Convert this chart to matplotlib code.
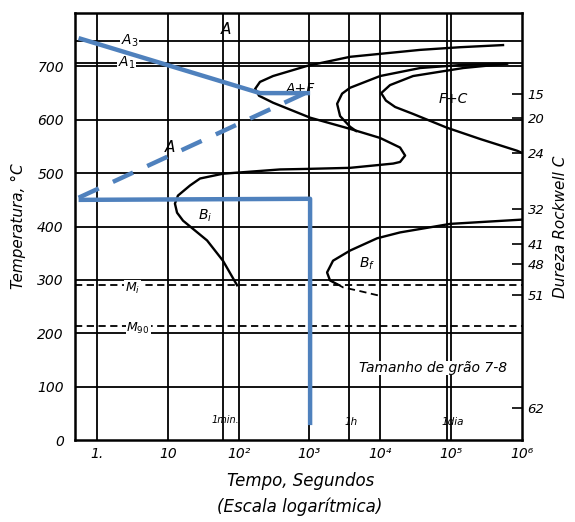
import matplotlib
matplotlib.use("Agg")
import matplotlib.pyplot as plt

plt.rcParams['font.family'] = ['DejaVu Sans']
plt.rcParams['mathtext.default'] = 'it'

# curves of the TTT diagram (time in s, temperature in C)
ferrite_start_t = [5.4e5, 1.34e5, 3.65e4, 3740, 925, 306, 200, 171, 194, 306, 1020,
                   3740, 9930, 1.9e4, 2.24e4, 1.9e4, 1.52e4, 3740, 925, 385, 60,
                   28.5, 20.6, 13.9, 12.6, 13.5, 16.4, 35.8, 60, 95]
ferrite_start_T = [740, 736, 731, 718, 701, 682, 671, 658, 645, 632, 604,
                   583, 566, 548, 533, 521, 518, 510, 508, 507, 499,
                   490, 477, 458, 443, 426, 411, 374, 336, 290]

pearlite_start_t = [5.79e5, 1.48e5, 3.65e4, 9930, 3740, 2886, 2455, 2704, 3740, 4550]
pearlite_start_T = [705, 703, 697, 682, 660, 649, 630, 607, 587, 579]

pearlite_end_t = [6.17e5, 1.48e5, 2.9e4, 1.37e4, 1.03e4, 1.2e4, 1.62e4, 2.9e4,
                  8.8e4, 2.57e5, 8.55e5, 1e6]
pearlite_end_T = [705, 697, 682, 665, 650, 636, 624, 611, 585, 564, 542, 538]

bainite_end_t = [1e6, 9.7e4, 1.9e4, 9010, 3740, 2150, 1770, 1950, 2455]
bainite_end_T = [413, 405, 389, 378, 355, 336, 314, 299, 292]
bainite_end_dash_t = [2455, 2985, 5190, 9310]
bainite_end_dash_T = [292, 286, 279, 271]

# critical temperatures
A3 = 748
A1 = 707
Mi = 290
M90 = 213

# hardness scale on the right
hrc_T = [648, 604, 538, 432, 368, 330, 271, 60]
hrc_labels = ['15', '20', '24', '32', '41', '48', '51', '62']

x_ticks = [1, 10, 100, 1e3, 1e4, 1e5, 1e6]
x_labels = ['1.', '10', '10²', '10³', '10⁴', '10⁵', '10⁶']
y_ticks = [0, 100, 200, 300, 400, 500, 600, 700]
v_lines = [1, 10, 60, 100, 1000, 3600, 1e4, 86400, 1e5]

# blue cooling paths drawn over the diagram
path1_t = [0.55, 200, 1020]
path1_T = [753, 650, 650]
path2_t = [0.55, 870]
path2_T = [454, 650]
path3_t = [0.55, 1020, 1020]
path3_T = [450, 452, 28]

blue = '#4f81bd'
ital = dict(fontstyle='italic', color='black')

fig = plt.figure(figsize=(5.75, 5.22), dpi=100)
ax = fig.add_axes([0.1304, 0.157, 0.7774, 0.818])
ax.set_xscale('log')
ax.set_xlim(0.489, 1e6)
ax.set_ylim(0, 800)

# grid
for v in v_lines:
    ax.axvline(v, color='black', lw=1.3, zorder=1)
for h in y_ticks[1:]:
    ax.axhline(h, color='black', lw=1.3, zorder=1)
ax.axhline(A3, color='black', lw=1.3, zorder=1)
ax.axhline(A1, color='black', lw=1.3, zorder=1)
ax.axhline(Mi, color='black', lw=1.3, ls=(0, (4, 2.5)), zorder=1)
ax.axhline(M90, color='black', lw=1.3, ls=(0, (4, 2.5)), zorder=1)

# curves
ax.plot(ferrite_start_t, ferrite_start_T, color='black', lw=1.7, zorder=2)
ax.plot(pearlite_start_t, pearlite_start_T, color='black', lw=1.7, zorder=2)
ax.plot(pearlite_end_t, pearlite_end_T, color='black', lw=1.7, zorder=2)
ax.plot(bainite_end_t, bainite_end_T, color='black', lw=1.7, zorder=2)
ax.plot(bainite_end_dash_t, bainite_end_dash_T, color='black', lw=1.3,
        ls=(0, (4, 2.5)), zorder=2)

# labels on the diagram
wb = dict(fc='white', ec='none', pad=0.5)
ax.text(66, 770, 'A', fontsize=11, ha='center', va='center', **ital)
ax.text(2.9, 748, 'A$_3$', fontsize=10, ha='center', va='center', bbox=wb, **ital)
ax.text(2.65, 707, 'A$_1$', fontsize=10, ha='center', va='center', bbox=wb, **ital)
ax.text(736, 658, 'A+F', fontsize=10, ha='center', va='center', **ital)
ax.text(10.7, 548, 'A', fontsize=11, ha='center', va='center', **ital)
ax.text(33.5, 420, 'B$_i$', fontsize=10, ha='center', va='center', **ital)
ax.text(1.07e5, 639, 'F+C', fontsize=10, ha='center', va='center', **ital)
ax.text(6500, 331, 'B$_f$', fontsize=10, ha='center', va='center', **ital)
ax.text(3.2, 284, 'M$_i$', fontsize=9, ha='center', va='center', bbox=wb, **ital)
ax.text(3.8, 209, 'M$_{90}$', fontsize=9, ha='center', va='center', bbox=wb, **ital)
ax.text(5.6e4, 135, 'Tamanho de grão 7-8', fontsize=10, ha='center', va='center',
        bbox=dict(fc='white', ec='none', pad=0.3), **ital)
ax.text(64, 37, '1min.', fontsize=7, ha='center', va='center', **ital)
ax.text(3900, 34, '1h', fontsize=7.5, ha='center', va='center', **ital)
ax.text(1.05e5, 34, '1dia', fontsize=7.5, ha='center', va='center', **ital)

# blue paths
ax.plot(path1_t, path1_T, color=blue, lw=3.2, solid_capstyle='butt', zorder=5)
ax.plot(path2_t, path2_T, color=blue, lw=3.2, dashes=(5, 3.5), zorder=5)
ax.plot(path3_t, path3_T, color=blue, lw=3.2, solid_capstyle='butt', zorder=5)

# axes styling
for s in ax.spines.values():
    s.set_linewidth(1.8)
ax.set_xticks(x_ticks)
ax.set_xticklabels(x_labels, fontsize=10, fontstyle='italic')
ax.xaxis.set_minor_locator(matplotlib.ticker.NullLocator())
ax.set_yticks(y_ticks)
ax.set_yticklabels([str(v) for v in y_ticks], fontsize=10, fontstyle='italic')
ax.tick_params(axis='x', length=0, pad=5)
ax.tick_params(axis='y', length=0, pad=8)
fig.text(0.522, 0.0785, 'Tempo, Segundos', fontsize=12, fontstyle='italic',
         ha='center', va='center')
fig.text(0.522, 0.0287, '(Escala logarítmica)', fontsize=12, fontstyle='italic',
         ha='center', va='center')
ax.set_ylabel('Temperatura, °C', fontsize=11, fontstyle='italic', labelpad=8)

ax2 = ax.twinx()
ax2.set_ylim(0, 800)
ax2.set_yticks(hrc_T)
ax2.set_yticklabels(hrc_labels, fontsize=9.5, fontstyle='italic')
ax2.tick_params(axis='y', direction='in', length=7, width=1.2, pad=4)
ax2.set_ylabel('Dureza Rockwell C', fontsize=11, fontstyle='italic',
               rotation=90, labelpad=6)
ax2.yaxis.set_label_position('right')
for s in ax2.spines.values():
    s.set_visible(False)

fig.savefig('out.png', dpi=100)
